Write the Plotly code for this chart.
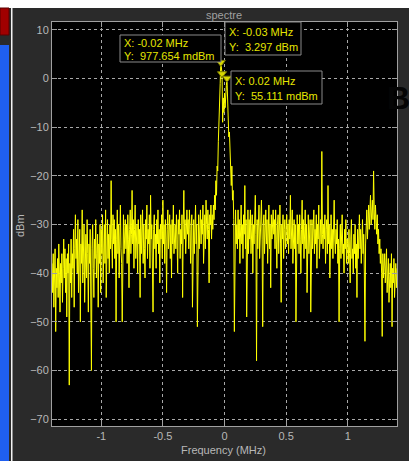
import numpy as np
import plotly.graph_objects as go

# ---------------- data ----------------
FREQ_START_MHZ = -1.4
FREQ_STEP_MHZ = 0.005

level_dbm = [
    -38, -44, -36, -47, -41, -35, -52, -39, -43, -37, -45, -34, -40, -48, -38, -42, -36, -46, -39, -33,
    -41, -35, -44, -37, -49, -36, -40, -34, -63, -38, -42, -33, -45, -36, -39, -31, -47, -35, -28, -37,
    -33, -40, -29, -44, -36, -31, -50, -34, -38, -27, -42, -35, -30, -46, -37, -32, -41, -29, -36, -48,
    -34, -38, -31, -43, -60, -35, -30, -39, -45, -33, -37, -29, -41, -36, -32, -47, -34, -38, -30, -44,
    -31, -36, -28, -42, -33, -30, -38, -27, -45, -34, -29, -37, -32, -40, -30, -35, -21, -33, -39, -28,
    -34, -29, -37, -31, -50, -33, -27, -36, -30, -41, -32, -26, -35, -38, -50, -31, -28, -36, -33, -29,
    -35, -30, -38, -28, -33, -43, -31, -27, -36, -32, -23, -34, -29, -39, -31, -26, -37, -33, -30, -40,
    -29, -34, -31, -45, -28, -36, -32, -27, -38, -30, -35, -41, -29, -33, -26, -37, -31, -34, -28, -39,
    -24, -33, -30, -37, -48, -31, -28, -35, -32, -39, -29, -34, -27, -36, -31, -42, -30, -33, -28, -37,
    -25, -34, -30, -38, -29, -33, -44, -31, -27, -35, -32, -28, -37, -30, -41, -29, -34, -26, -36, -31,
    -30, -35, -28, -33, -40, -29, -32, -27, -37, -31, -34, -28, -45, -30, -23, -33, -29, -36, -31, -27,
    -32, -29, -35, -27, -31, -38, -30, -28, -47, -33, -29, -36, -31, -26, -34, -30, -51, -32, -28, -35,
    -30, -27, -34, -29, -32, -26, -38, -31, -28, -35, -25, -30, -33, -27, -31, -42, -28, -30, -26, -33,
    -28, -31, -26, -29, -24, -27, -21, -24, -18, -19, -13, -10, -6, -1, 3.297, 1.8, 0.978, -9, -4, -7,
    -3, -6, -2, -1.5, 0.055, -5, -9, -12, -11, -16, -19, -22, -18, -25, -23, -29, -52, -31, -27, -34,
    -30, -35, -27, -33, -29, -38, -31, -26, -34, -30, -37, -28, -32, -22, -35, -29, -49, -31, -27, -36,
    -29, -33, -27, -36, -31, -28, -40, -30, -34, -27, -24, -32, -58, -29, -35, -30, -26, -37, -31, -28,
    -25, -33, -51, -30, -28, -36, -31, -27, -34, -29, -38, -32, -26, -35, -30, -43, -28, -33, -31, -27,
    -32, -29, -35, -27, -33, -39, -30, -28, -36, -31, -26, -34, -46, -30, -33, -28, -37, -31, -29, -35,
    -31, -28, -34, -30, -36, -29, -33, -24, -35, -31, -27, -38, -32, -29, -35, -30, -50, -33, -28, -34,
    -30, -36, -28, -33, -40, -31, -25, -34, -29, -37, -32, -27, -35, -30, -44, -31, -28, -36, -33, -29,
    -48, -32, -29, -35, -30, -27, -36, -31, -34, -28, -39, -30, -33, -26, -37, -31, -29, -34, -15, -32,
    -35, -30, -33, -28, -38, -31, -29, -36, -22, -34, -30, -41, -32, -28, -35, -31, -37, -30, -25, -33,
    -36, -31, -34, -29, -38, -33, -50, -35, -30, -37, -32, -28, -36, -34, -40, -31, -35, -29, -38, -33,
    -34, -38, -31, -36, -42, -33, -29, -37, -35, -40, -32, -36, -30, -39, -34, -45, -31, -37, -33, -28,
    -35, -31, -38, -33, -29, -36, -32, -40, -54, -34, -30, -27, -33, -29, -26, -31, -28, -24, -30, -27,
    -25, -29, -19, -27, -31, -26, -29, -32, -28, -34, -31, -36, -33, -38, -35, -40, -53, -36, -41, -38,
    -36, -42, -39, -35, -44, -40, -37, -46, -41, -38, -43, -36, -51, -39, -42, -37, -45, -40, -38, -43,
    -39,
]

marker_freq_mhz = [-0.02, -0.03, 0.02]
marker_level_dbm = [0.978, 3.297, 0.055]
marker_x_text = ["X: -0.02 MHz", "X: -0.03 MHz", "X: 0.02 MHz"]
marker_y_text = ["Y:  977.654 mdBm", "Y:  3.297 dBm", "Y:  55.111 mdBm"]

y_ticks = [-70, -60, -50, -40, -30, -20, -10, 0, 10]
x_ticks = [-1, -0.5, 0, 0.5, 1]
x_tick_labels = ["-1", "-0.5", "0", "0.5", "1"]

freq_mhz = np.round(FREQ_START_MHZ + FREQ_STEP_MHZ * np.arange(len(level_dbm)), 4)

# ---------------- layout helpers (pixel -> paper) ----------------
W, H = 409, 461
ML, MR, MT, MB = 52, 12, 22, 35
PW, PH = W - ML - MR, H - MT - MB


def px(x):
    return (x - ML) / PW


def py(y):
    return (H - MB - y) / PH


BG = "#2a2a2a"
GRID = "#a8a8a8"
AXIS = "#a0a0a0"
TICKFONT = dict(family="Liberation Sans, Arial, sans-serif", size=11, color="#b8b8b8")
TIPCOLOR = "#e6e600"

fig = go.Figure()
fig.add_trace(go.Scatter(
    x=freq_mhz, y=level_dbm, mode="lines",
    line=dict(color="#ffff00", width=1), hoverinfo="skip", showlegend=False,
))
fig.add_trace(go.Scatter(
    x=marker_freq_mhz, y=marker_level_dbm, mode="markers",
    marker=dict(symbol="triangle-down", size=8, color="#d8d800",
                line=dict(color="#7a7a00", width=1)),
    hoverinfo="skip", showlegend=False,
))

shapes = []
annotations = []

# surrounding window decoration
shapes.append(dict(type="rect", xref="paper", yref="paper", x0=px(0), x1=px(W), y0=py(8), y1=py(0),
                   fillcolor="#ffffff", line=dict(width=0), layer="below"))
shapes.append(dict(type="rect", xref="paper", yref="paper", x0=px(0), x1=px(9), y0=py(35), y1=py(8),
                   fillcolor="#a00000", line=dict(color="#5a0000", width=1), layer="below"))
shapes.append(dict(type="rect", xref="paper", yref="paper", x0=px(0), x1=px(9), y0=py(H), y1=py(45),
                   fillcolor="#1f5ff0", line=dict(width=0), layer="below"))
shapes.append(dict(type="rect", xref="paper", yref="paper", x0=px(11), x1=px(12.5), y0=py(H), y1=py(8),
                   fillcolor="#f2f2f2", line=dict(width=0), layer="below"))

# datatip boxes
boxes = [(120, 221, 35, 62), (225, 301, 22, 55), (231, 322, 71, 104)]
text_pos = [(122, 43, 56), (227, 32, 47), (233, 81, 96)]
for (x0, x1, y0, y1), (tx, ty1, ty2), xt, yt in zip(boxes, text_pos, marker_x_text, marker_y_text):
    shapes.append(dict(type="rect", xref="paper", yref="paper", x0=px(x0), x1=px(x1), y0=py(y1), y1=py(y0),
                       fillcolor="#000000", line=dict(color="#8a8a8a", width=1), layer="above"))
    for t, ty in ((xt, ty1), (yt, ty2)):
        annotations.append(dict(text=t, xref="paper", yref="paper", x=px(tx), y=py(ty),
                                xanchor="left", yanchor="middle", showarrow=False,
                                font=dict(family="Liberation Sans, Arial, sans-serif", size=11, color=TIPCOLOR)))

# titles
annotations.append(dict(text="spectre", xref="paper", yref="paper", x=px(224), y=py(15),
                        xanchor="center", yanchor="middle", showarrow=False,
                        font=dict(family="Liberation Sans, Arial, sans-serif", size=11, color="#a0a0a0")))
annotations.append(dict(text="Frequency (MHz)", xref="paper", yref="paper", x=px(223), y=py(450),
                        xanchor="center", yanchor="middle", showarrow=False, font=TICKFONT))
annotations.append(dict(text="dBm", xref="paper", yref="paper", x=px(20), y=py(226), textangle=-90,
                        xanchor="center", yanchor="middle", showarrow=False, font=TICKFONT))
annotations.append(dict(text="<b>B</b>", xref="paper", yref="paper", x=px(412), y=py(98),
                        xanchor="right", yanchor="middle", showarrow=False,
                        font=dict(family="Liberation Sans, Arial, sans-serif", size=32, color="#050505")))

axis_common = dict(
    showline=True, linecolor=AXIS, linewidth=1, mirror="allticks",
    ticks="inside", ticklen=5, tickcolor=AXIS, tickwidth=1,
    showgrid=True, gridcolor=GRID, gridwidth=1, griddash="3px,3px",
    zeroline=False, tickfont=TICKFONT,
)

fig.update_layout(
    width=W, height=H,
    margin=dict(l=ML, r=MR, t=MT, b=MB, pad=0),
    paper_bgcolor=BG, plot_bgcolor="#000000",
    xaxis=dict(range=[-1.4, 1.4], tickvals=x_ticks, ticktext=x_tick_labels, **axis_common),
    yaxis=dict(range=[-71.4, 11.6], tickvals=y_ticks, **axis_common),
    shapes=shapes, annotations=annotations,
    showlegend=False,
)

fig.write_html(
    "out.html",
    config={"displayModeBar": False, "staticPlot": True},
    post_script="document.body.style.margin='0';document.body.style.overflow='hidden';",
)
